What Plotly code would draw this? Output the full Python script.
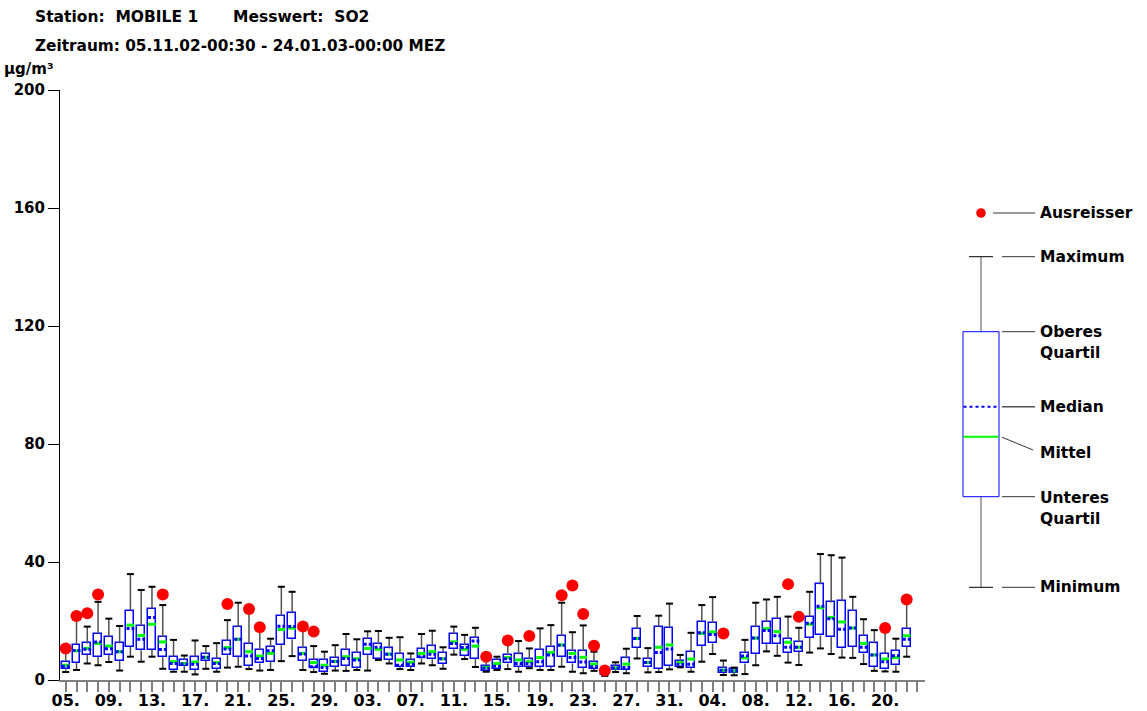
import plotly.graph_objects as go

# ---- data (µg/m³), one entry per day starting 05.11.02 ----
w_low  = [2.7,3.4,5.6,5.0,6.1,3.2,7.9,6.2,7.9,3.8,2.8,2.8,1.9,3.8,2.8,4.2,4.5,3.7,3.2,3.4,
          6.4,8.1,3.4,2.7,2.1,3.2,3.1,3.4,3.2,6.8,5.6,3.7,3.4,5.6,5.0,3.8,8.6,7.1,4.4,2.8,
          3.4,3.7,2.8,4.0,3.4,3.4,4.5,2.8,2.3,3.1,1.4,2.7,2.3,7.3,2.6,2.7,3.6,4.3,2.8,6.2,
          8.8,1.7,1.6,2.0,5.0,9.7,8.2,5.9,5.1,9.3,10.7,8.8,7.6,7.5,5.4,3.1,2.9,2.8,7.9]
q1     = [3.6,5.9,8.5,7.9,8.5,6.4,11.2,10.1,10.2,7.7,3.3,4.7,3.4,6.4,3.8,8.4,7.9,4.9,5.6,6.2,
          11.8,13.8,6.6,4.0,2.8,4.5,4.9,4.2,8.6,7.2,6.8,4.5,4.5,7.3,7.2,5.5,10.4,8.3,7.1,3.2,
          3.6,5.6,4.5,4.3,4.3,4.5,7.7,5.6,4.0,3.7,1.7,3.4,3.4,11.0,4.3,3.8,4.9,4.5,4.0,11.5,
          12.4,2.5,2.5,5.6,8.8,12.1,12.1,9.2,9.5,14.3,15.1,14.5,10.7,11.3,9.0,4.5,3.6,5.0,11.3]
median = [4.7,10.0,10.4,12.9,10.6,9.6,17.5,13.8,21.2,10.3,5.6,5.4,5.3,7.7,5.6,10.5,13.8,8.1,7.3,9.9,
          18.2,18.1,8.8,4.5,4.2,6.3,7.3,6.8,12.1,11.1,8.7,5.0,5.3,7.9,8.7,7.2,12.4,11.0,13.2,4.0,
          4.7,7.2,5.6,5.6,6.2,8.5,11.8,7.6,6.1,4.5,2.0,4.1,4.2,14.1,5.9,9.3,10.5,5.3,5.3,16.0,
          15.4,3.3,3.1,8.1,14.2,16.8,15.0,11.1,11.1,19.2,25.0,20.8,17.2,17.6,11.1,8.5,6.2,8.2,13.8]
mean   = [5.0,9.9,10.7,12.4,11.5,9.6,18.6,15.1,18.9,12.9,6.2,5.6,6.1,7.7,5.9,11.0,13.8,9.6,8.1,9.0,
          17.1,17.6,9.0,5.9,5.0,6.3,7.9,7.2,10.7,10.4,8.8,6.8,6.0,9.0,9.6,7.2,12.9,10.4,11.5,4.3,
          5.6,7.6,6.8,6.2,7.6,9.3,11.9,9.0,7.7,5.4,2.1,4.1,5.4,14.1,5.9,11.1,11.9,5.9,7.1,15.8,
          16.3,3.3,3.1,7.5,14.2,17.4,16.4,12.8,11.1,18.9,24.5,21.2,19.7,17.6,12.4,8.5,7.1,7.6,15.0]
q3     = [6.2,12.0,12.4,15.5,14.5,12.4,23.5,18.4,24.2,14.6,7.9,6.8,7.7,8.7,7.2,13.2,17.9,12.1,10.2,11.1,
          21.7,22.6,10.8,6.8,6.8,7.6,10.2,9.2,13.9,12.1,10.7,8.7,6.7,10.6,11.4,9.3,15.6,11.8,14.3,4.9,
          6.8,8.5,8.7,7.0,10.2,11.3,14.9,9.8,9.8,6.2,2.6,4.7,7.3,17.3,7.1,17.9,17.6,6.3,9.5,19.8,
          19.4,4.0,3.6,9.3,17.9,19.7,20.8,14.0,12.8,21.5,32.4,26.3,26.7,23.4,15.0,12.4,8.9,9.9,17.4]
w_high = [10.2,20.9,18.1,26.5,20.8,18.3,35.9,30.5,31.6,25.4,13.6,8.3,13.4,11.5,12.5,20.3,26.2,22.9,17.2,14.0,
          31.6,29.9,17.5,11.5,9.6,11.8,15.6,13.8,16.5,16.6,14.3,14.5,9.0,15.6,16.7,11.1,18.1,15.3,17.7,7.2,
          7.9,12.9,13.2,10.7,17.5,18.6,26.2,16.2,18.5,9.6,3.1,6.0,10.6,21.7,10.8,21.8,25.9,8.5,16.0,25.4,
          28.1,6.6,4.2,13.6,26.2,27.3,28.2,21.5,17.7,29.9,42.7,42.3,41.5,28.2,20.6,16.9,17.2,14.0,26.5]

outlier_day   = [0,1,2,3,9,15,17,18,22,23,39,41,43,46,47,48,49,50,61,67,68,76,78]
outlier_value = [10.7,21.7,22.6,29.0,29.0,25.8,24.1,17.9,18.1,16.4,7.9,13.4,14.9,28.7,32.0,22.4,11.6,3.2,
                 15.8,32.5,21.4,17.6,27.3]

n_days = 80
tick_labels = ["05.","09.","13.","17.","21.","25.","29.","03.","07.","11.",
               "15.","19.","23.","27.","31.","04.","08.","12.","16.","20."]

days = list(range(len(q1)))
FONT = "DejaVu Sans"
BLUE = "#0000ff"
GREEN = "#00ff00"
HALF = 0.36

fig = go.Figure()

# boxes
fig.add_trace(go.Bar(x=days, base=q1, y=[b - a for a, b in zip(q1, q3)], width=0.74,
                     marker=dict(color="white", line=dict(color=BLUE, width=1.5)),
                     hoverinfo="skip", showlegend=False))

# whiskers
wx, wy = [], []
for d, lo, a, b, hi in zip(days, w_low, q1, q3, w_high):
    wx += [d, d, None, d, d, None]
    wy += [lo, a, None, b, hi, None]
fig.add_trace(go.Scatter(x=wx, y=wy, mode="lines", line=dict(color="#505050", width=1.5),
                         hoverinfo="skip", showlegend=False))
fig.add_trace(go.Scatter(x=days + days, y=w_low + w_high, mode="markers",
                         marker=dict(symbol="line-ew", size=5, line=dict(color="black", width=2)),
                         hoverinfo="skip", showlegend=False))

# mean and median
def seg(vals):
    xs, ys = [], []
    for d, v in zip(days, vals):
        xs += [d - HALF, d + HALF, None]
        ys += [v, v, None]
    return xs, ys

mx, my = seg(mean)
fig.add_trace(go.Scatter(x=mx, y=my, mode="lines", line=dict(color=GREEN, width=3),
                         hoverinfo="skip", showlegend=False))
dx, dy = seg(median)
fig.add_trace(go.Scatter(x=dx, y=dy, mode="lines", line=dict(color=BLUE, width=3, dash="3px,2px"),
                         hoverinfo="skip", showlegend=False))

# outliers
fig.add_trace(go.Scatter(x=outlier_day, y=outlier_value, mode="markers",
                         marker=dict(color="#ff0000", size=12, line=dict(width=0)),
                         hoverinfo="skip", showlegend=False))

# ---- layout geometry ----
W, H = 1147, 711
L, R, T, B = 60, 222, 90, 31
PW, PH = W - L - R, H - T - B

def px(x):
    return (x - L) / PW

def py(y):
    return (H - B - y) / PH

ticktext = [""] * n_days
for k, lab in enumerate(tick_labels):
    ticktext[4 * k] = lab

fig.update_layout(
    width=W, height=H, margin=dict(l=L, r=R, t=T, b=B),
    paper_bgcolor="white", plot_bgcolor="white", showlegend=False,
    bargap=0,
    xaxis=dict(range=[-0.53, 79.7], tickmode="array", tickvals=list(range(n_days)), ticktext=ticktext,
               ticks="outside", ticklen=10, tickwidth=2, tickcolor="#808080",
               showline=True, linecolor="#808080", linewidth=2, showgrid=False, zeroline=False,
               ticklabelstandoff=-5,
               tickfont=dict(family=FONT, size=16, color="black", weight="bold"), automargin=False),
    yaxis=dict(range=[0, 200], tickmode="array", tickvals=[0, 40, 80, 120, 160, 200],
               ticks="outside", ticklen=11, tickwidth=1, tickcolor="black",
               showline=True, linecolor="black", linewidth=1, showgrid=False, zeroline=False,
               tickfont=dict(family=FONT, size=15, color="black", weight="bold"), automargin=False),
    font=dict(family=FONT, color="black"),
)

def text(x, y, s, size=15.5):
    fig.add_annotation(xref="paper", yref="paper", x=px(x), y=py(y), text=s, showarrow=False,
                       xanchor="left", yanchor="middle", xshift=-1,
                       font=dict(family=FONT, size=size, color="black", weight="bold"))

NB = "\u00a0"
text(34, 17, f"Station:{NB}{NB}MOBILE{NB}1", 15.5)
text(232, 17, f"Messwert:{NB}{NB}SO2", 15.5)
text(34, 46, "Zeitraum: 05.11.02-00:30 - 24.01.03-00:00 MEZ", 15.3)
text(3, 69, "µg/m³", 15)

def line(x0, y0, x1, y1, color="#333333", width=1, dash=None):
    fig.add_shape(type="line", xref="paper", yref="paper", x0=px(x0), y0=py(y0), x1=px(x1), y1=py(y1),
                  line=dict(color=color, width=width, dash=dash))

# legend graphic
cx = 981
fig.add_shape(type="circle", xref="paper", yref="paper", x0=px(cx - 4.8), x1=px(cx + 4.8),
              y0=py(213 - 4.8), y1=py(213 + 4.8), fillcolor="#ff0000", line=dict(width=0))
line(993, 213, 1035, 213)
text(1039, 213, "Ausreisser")

y_max, y_top, y_med, y_mean, y_bot, y_min = 256.7, 331.7, 406.7, 436.7, 496.7, 587.3
line(cx, y_max, cx, y_top, "#505050", 1)
line(cx, y_bot, cx, y_min, "#505050", 1)
line(969, y_max, 993, y_max, "black", 1)
line(969, y_min, 993, y_min, "black", 1)
fig.add_shape(type="rect", xref="paper", yref="paper", x0=px(963), x1=px(999), y0=py(y_bot), y1=py(y_top),
              line=dict(color=BLUE, width=1), fillcolor="white")
line(963.5, y_med, 998.5, y_med, BLUE, 2, "dot")
line(963.5, y_mean, 998.5, y_mean, GREEN, 2)

line(1002, y_max, 1035, y_max)
text(1039, y_max, "Maximum")
line(1002, y_top, 1035, y_top)
text(1039, y_top, "Oberes")
text(1039, y_top + 21.5, "Quartil")
line(1002, y_med, 1035, y_med, "#505050", 1.5)
text(1039, y_med, "Median")
line(1002, y_mean + 0.5, 1033, 450)
text(1039, 453, "Mittel")
line(1002, y_bot, 1035, y_bot)
text(1039, y_bot + 1, "Unteres")
text(1039, y_bot + 22.5, "Quartil")
line(1002, y_min, 1035, y_min)
text(1039, y_min, "Minimum")

fig.write_html("out.html", config={"displayModeBar": False},
               post_script="document.body.style.margin='0';document.body.style.padding='0';")
